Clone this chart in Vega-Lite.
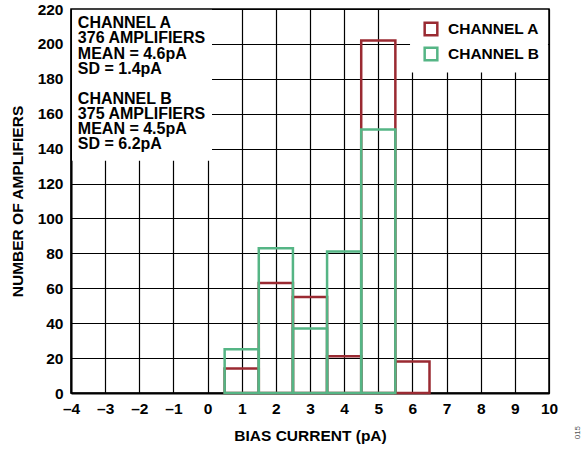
{
  "$schema": "https://vega.github.io/schema/vega-lite/v6.json",
  "width": 478,
  "height": 384,
  "autosize": {"type": "none"},
  "padding": {"left": 71, "top": 9, "right": 36, "bottom": 56},
  "background": "white",
  "config": {
    "font": "Liberation Sans",
    "view": {"stroke": "black", "strokeWidth": 1.5},
    "axis": {
      "labelFont": "Liberation Sans", "labelFontSize": 15.5, "labelFontWeight": "bold", "labelColor": "black",
      "titleFont": "Liberation Sans", "titleFontSize": 15.5, "titleFontWeight": "bold", "titleColor": "black",
      "ticks": false, "grid": true, "gridColor": "black", "gridWidth": 1.2, "gridOpacity": 1,
      "domainColor": "black", "domainWidth": 2, "labelFlush": false, "labelOverlap": false
    },
    "axisX": {"values": [-4,-3,-2,-1,0,1,2,3,4,5,6,7,8,9,10], "title": "BIAS CURRENT (pA)", "labelPadding": 8, "titlePadding": 12,
      "labelExpr": "datum.value < 0 ? '\u2013' + abs(datum.value) : datum.label"},
    "axisY": {"values": [0,20,40,60,80,100,120,140,160,180,200,220], "title": "NUMBER OF AMPLIFIERS", "labelPadding": 8, "titlePadding": 12},
    "legend": {
      "labelFont": "Liberation Sans", "labelFontSize": 15.5, "labelFontWeight": "bold", "labelColor": "black"
    }
  },
  "layer": [
    {
      "data": {"values": [{}]},
      "mark": {"type": "rect", "fill": "white", "stroke": null},
      "encoding": {
        "x": {"datum": -3.97, "type": "quantitative", "scale": {"domain": [-4, 10], "nice": false, "zero": false},
          "axis": {"title": "BIAS CURRENT (pA)"}},
        "x2": {"datum": 0.13},
        "y": {"datum": 133, "type": "quantitative", "scale": {"domain": [0, 220], "nice": false},
          "axis": {"title": "NUMBER OF AMPLIFIERS"}},
        "y2": {"datum": 219.5}
      }
    },
    {
      "data": {"values": [{}]},
      "mark": {"type": "rect", "fill": "white", "stroke": null},
      "encoding": {
        "x": {"datum": 5.93, "type": "quantitative", "axis": {"title": "BIAS CURRENT (pA)"}},
        "x2": {"datum": 9.97},
        "y": {"datum": 183.6, "type": "quantitative", "axis": {"title": "NUMBER OF AMPLIFIERS"}},
        "y2": {"datum": 219.5}
      }
    },
    {
      "data": {"values": [
        {"channel": "CHANNEL A", "lo": 0.5, "hi": 1.5, "count": 14},
        {"channel": "CHANNEL A", "lo": 1.5, "hi": 2.5, "count": 63},
        {"channel": "CHANNEL A", "lo": 2.5, "hi": 3.5, "count": 55},
        {"channel": "CHANNEL A", "lo": 3.5, "hi": 4.5, "count": 21},
        {"channel": "CHANNEL A", "lo": 4.5, "hi": 5.5, "count": 202},
        {"channel": "CHANNEL A", "lo": 5.5, "hi": 6.5, "count": 18},
        {"channel": "CHANNEL B", "lo": 0.5, "hi": 1.5, "count": 25},
        {"channel": "CHANNEL B", "lo": 1.5, "hi": 2.5, "count": 83},
        {"channel": "CHANNEL B", "lo": 2.5, "hi": 3.5, "count": 37},
        {"channel": "CHANNEL B", "lo": 3.5, "hi": 4.5, "count": 81},
        {"channel": "CHANNEL B", "lo": 4.5, "hi": 5.5, "count": 151}
      ]},
      "mark": {"type": "rect", "fill": "transparent", "strokeWidth": 2.5},
      "encoding": {
        "x": {"field": "lo", "type": "quantitative", "axis": {"title": "BIAS CURRENT (pA)"}},
        "x2": {"field": "hi"},
        "y": {"field": "count", "type": "quantitative", "axis": {"title": "NUMBER OF AMPLIFIERS"}},
        "y2": {"datum": 0},
        "stroke": {"field": "channel", "type": "nominal",
          "scale": {"domain": ["CHANNEL A", "CHANNEL B"], "range": ["#9A2A32", "#55B585"]},
          "legend": {"title": null, "orient": "none", "legendX": 352, "legendY": 12, "symbolType": "square",
            "symbolSize": 160, "symbolStrokeWidth": 2.5, "symbolFillColor": "white", "rowPadding": 1, "labelOffset": 9, "padding": 0}}
      }
    },
    {
      "data": {"values": [{}]},
      "mark": {"type": "text", "align": "left", "baseline": "alphabetic", "fontSize": 16, "fontWeight": "bold", "font": "Liberation Sans", "lineHeight": 15.5, "color": "black"},
      "encoding": {
        "x": {"datum": -3.8, "type": "quantitative", "axis": {"title": "BIAS CURRENT (pA)"}},
        "y": {"datum": 209.3, "type": "quantitative", "axis": {"title": "NUMBER OF AMPLIFIERS"}},
        "text": {"value": ["CHANNEL A", "376 AMPLIFIERS", "MEAN = 4.6pA", "SD = 1.4pA"]}
      }
    },
    {
      "data": {"values": [{}]},
      "mark": {"type": "text", "align": "left", "baseline": "alphabetic", "fontSize": 16, "fontWeight": "bold", "font": "Liberation Sans", "lineHeight": 15.2, "color": "black"},
      "encoding": {
        "x": {"datum": -3.8, "type": "quantitative", "axis": {"title": "BIAS CURRENT (pA)"}},
        "y": {"datum": 165.7, "type": "quantitative", "axis": {"title": "NUMBER OF AMPLIFIERS"}},
        "text": {"value": ["CHANNEL B", "375 AMPLIFIERS", "MEAN = 4.5pA", "SD = 6.2pA"]}
      }
    },
    {
      "data": {"values": [{}]},
      "mark": {"type": "text", "align": "center", "baseline": "middle", "fontSize": 8, "angle": 270, "font": "Liberation Sans", "color": "#555555"},
      "encoding": {
        "x": {"datum": 10.85, "type": "quantitative", "axis": {"title": "BIAS CURRENT (pA)"}},
        "y": {"datum": -22.7, "type": "quantitative", "axis": {"title": "NUMBER OF AMPLIFIERS"}},
        "text": {"value": "015"}
      }
    }
  ]
}
